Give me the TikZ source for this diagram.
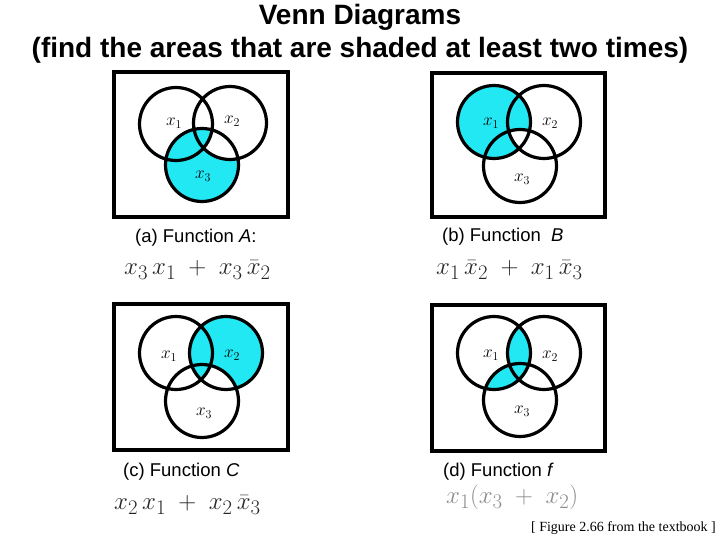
\documentclass[tikz,border=0pt]{standalone}
\usepackage{fontspec}
\setmainfont{Liberation Sans}
\newfontfamily\serifrm{Liberation Serif}
\definecolor{vcyan}{RGB}{34,232,244}
\begin{document}
\begin{tikzpicture}[x=1pt,y=-1pt,
  frame/.style={draw=black,line width=4pt},
  ring/.style={draw=black,line width=3.2pt},
  lab/.style={font=\fontsize{17}{17}\selectfont},
  caption/.style={font=\fontsize{18.5}{18.5}\selectfont,anchor=west,inner sep=0},
  formula/.style={font=\fontsize{29}{29}\selectfont,anchor=west,inner sep=0},
  ttl/.style={font=\bfseries\fontsize{28}{33}\selectfont,align=center}]
\useasboundingbox (0,0) rectangle (720,540);
\def\R{36.5}
% ---------- (a)
\coordinate (a1) at (176,124); \coordinate (a2) at (230,123); \coordinate (a3) at (202,165);
\fill[vcyan] (a3) circle (\R);
\begin{scope}\clip (a3) circle (\R); \clip (a2) circle (\R); \fill[white] (a2) circle (\R);
  \fill[vcyan] (a1) circle (\R);\end{scope}
\draw[ring] (a1) circle (\R) (a2) circle (\R) (a3) circle (\R);
\draw[frame] (114,72) rectangle (288,217);
\node[lab] (la1) at (174,123) {$x_1$};
\node[lab] (la2) at (232,121) {$x_2$};
\node[lab] (la3) at (203,176) {$x_3$};
% ---------- (b)
\coordinate (b1) at (494,122); \coordinate (b2) at (544,122); \coordinate (b3) at (520,166);
\fill[vcyan] (b1) circle (\R);
\begin{scope}\clip (b2) circle (\R); \clip (b3) circle (\R); \fill[white] (b1) circle (\R);\end{scope}
\draw[ring] (b1) circle (\R) (b2) circle (\R) (b3) circle (\R);
\draw[frame] (432,73) rectangle (605,217);
\node[lab] (lb1) at (491,123) {$x_1$};
\node[lab] (lb2) at (550,123) {$x_2$};
\node[lab] (lb3) at (522,179) {$x_3$};
% ---------- (c)
\coordinate (c1) at (176,353); \coordinate (c2) at (226,353); \coordinate (c3) at (202,401);
\fill[vcyan] (c2) circle (\R);
\begin{scope}\clip (c2) circle (\R); \clip (c3) circle (\R); \fill[white] (c3) circle (\R);
  \fill[vcyan] (c1) circle (\R);\end{scope}
\draw[ring] (c1) circle (\R) (c2) circle (\R) (c3) circle (\R);
\draw[frame] (114,304) rectangle (288,450);
\node[lab] (lc1) at (169,356) {$x_1$};
\node[lab] (lc2) at (232,355) {$x_2$};
\node[lab] (lc3) at (204,413) {$x_3$};
% ---------- (d)
\coordinate (d1) at (494,353); \coordinate (d2) at (544,353); \coordinate (d3) at (520,400);
\begin{scope}\clip (d1) circle (\R); \fill[vcyan] (d2) circle (\R); \fill[vcyan] (d3) circle (\R);\end{scope}
\draw[ring] (d1) circle (\R) (d2) circle (\R) (d3) circle (\R);
\draw[frame] (432,305) rectangle (605,451);
\node[lab] (ld1) at (491,355) {$x_1$};
\node[lab] (ld2) at (550,356) {$x_2$};
\node[lab] (ld3) at (522,411) {$x_3$};
% ---------- titles
\node[ttl] (title) at (360,34) {Venn Diagrams\\(find the areas that are shaded at least two times)};
\node[caption] (capa) at (135,238) {(a) Function \textit{A}:};
\node[caption] (capb) at (442,237) {(b) Function~~\textit{B}};
\node[caption] (capc) at (123,472) {(c) Function \textit{C}};
\node[caption] (capd) at (443,472) {(d) Function \textit{f}};
\node[formula,text=black!85] (fa) at (124,270) {$x_3\,x_1\;+\;x_3\,\bar{x}_2$};
\node[formula,text=black!85] (fb) at (436,270) {$x_1\,\bar{x}_2\;+\;x_1\,\bar{x}_3$};
\node[formula,text=black!85] (fc) at (114,505) {$x_2\,x_1\;+\;x_2\,\bar{x}_3$};
\node[formula,text=black!45] (fd) at (446,497) {$x_1(x_3\;+\;x_2)$};
\node[font=\serifrm\fontsize{14}{14}\selectfont,anchor=east,inner sep=0] (note) at (716,528) {[ Figure 2.66 from the textbook ]};
\end{tikzpicture}
\end{document}
